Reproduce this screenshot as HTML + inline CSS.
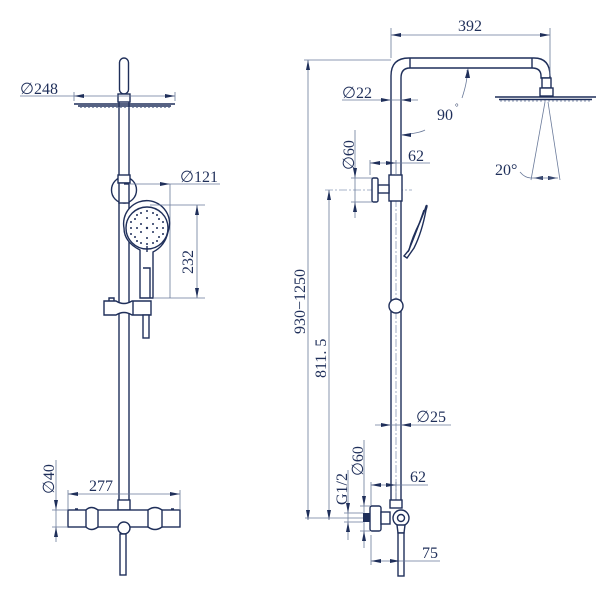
<!DOCTYPE html>
<html><head><style>
html,body{margin:0;padding:0;background:#fff;}
svg{display:block;}
text{font-family:"Liberation Serif",serif;fill:#1f2f5a;font-size:16px;}
.o{fill:none;stroke:#1f2f5a;stroke-width:1.4;}
.f{fill:#fff;stroke:#1f2f5a;stroke-width:1.4;}
.d{fill:none;stroke:#6a7a9a;stroke-width:0.8;}
.c{fill:none;stroke:#8a9ab8;stroke-width:0.8;stroke-dasharray:8 2 2 2;}
.a{fill:#1f2f5a;}
</style></head><body>
<svg width="614" height="598" viewBox="0 0 614 598" xmlns="http://www.w3.org/2000/svg">
<!-- ================= LEFT VIEW ================= -->
<rect class="f" x="119" y="100" width="10" height="405"/>
<rect class="f" x="119.5" y="58" width="9" height="36" rx="4.5"/>
<rect class="f" x="118" y="94" width="12" height="8"/>
<path class="o" d="M74,104 L175,104 M78,106 L171,106"/>
<path class="d" d="M80,107.5 L170,107.5" stroke-dasharray="2 2"/>
<path class="d" d="M20,96 L175,96 M74,92 L74,101 M175,92 L175,101"/>
<path d="M74,96 L84,94 L84,98z M175,96 L165,94 L165,98z" class="a"/>
<text x="20" y="94">∅248</text>
<ellipse class="f" cx="124" cy="190" rx="12.5" ry="13"/>
<rect class="f" x="118" y="175" width="12" height="8"/>
<rect class="f" x="119" y="183" width="10" height="20"/>
<path class="o" d="M124,184 L129,184"/>
<path class="d" d="M129,184 L220,184 M170,184 L170,298"/>
<path class="a" d="M170,184 L160,182 L160,186z"/>
<text x="180" y="182">∅121</text>
<path class="f" d="M140,298 L140,250 Q124,242 124,228 A23,23 0 1 1 168,232 Q165,246 153,252 L153,298 Z"/>
<circle class="o" cx="147" cy="228" r="21"/>
<g fill="#1f2f5a">
<circle cx="147" cy="228" r="1.2"/><circle cx="141" cy="224" r="1"/><circle cx="153" cy="224" r="1"/><circle cx="141" cy="232" r="1"/><circle cx="153" cy="232" r="1"/>
<circle cx="147" cy="218" r="1"/><circle cx="147" cy="238" r="1"/><circle cx="137" cy="228" r="1"/><circle cx="157" cy="228" r="1"/>
<circle cx="135" cy="219" r="1"/><circle cx="159" cy="219" r="1"/><circle cx="135" cy="237" r="1"/><circle cx="159" cy="237" r="1"/>
<circle cx="141" cy="213" r="1"/><circle cx="153" cy="213" r="1"/><circle cx="141" cy="243" r="1"/><circle cx="153" cy="243" r="1"/>
<circle cx="131" cy="228" r="1"/><circle cx="163" cy="228" r="1"/><circle cx="147" cy="211" r="1"/><circle cx="147" cy="244" r="1"/>
<circle cx="131" cy="222" r="1"/><circle cx="163" cy="222" r="1"/><circle cx="131" cy="234" r="1"/><circle cx="163" cy="234" r="1"/>
<circle cx="137" cy="215" r="1"/><circle cx="157" cy="215" r="1"/><circle cx="137" cy="241" r="1"/><circle cx="157" cy="241" r="1"/>
</g>
<path class="o" d="M147,246 L147,252 M143,268 L150,268 L150,298"/>
<path class="d" d="M150,205 L205,205 M153,298 L205,298 M197,205 L197,298"/>
<path class="a" d="M197,205 L195,215 L199,215z M197,298 L195,288 L199,288z"/>
<text transform="translate(193,274) rotate(-90)">232</text>
<path class="f" d="M104,301 L116,301 Q124,306 132,301 L151,301 L151,315 L132,315 Q124,310 116,315 L104,315 Z"/>
<path class="o" d="M133,301 L133,315 M109,301 L109,298 L114,298 L114,301"/>
<rect class="f" x="143" y="315" width="6" height="23"/>
<rect class="f" x="118" y="500" width="12" height="10"/>
<rect class="f" x="68" y="510" width="112" height="17"/>
<path class="f" d="M86,510 Q91,505 98,510 L98,527 Q91,532 86,527 Z"/>
<path class="f" d="M148,510 Q155,505 162,510 L162,527 Q155,532 148,527 Z"/>
<path class="o" d="M75,509 L78,509 M171,509 L174,509"/>
<circle class="f" cx="124" cy="528" r="6"/>
<rect class="f" x="120" y="534" width="6" height="41"/>
<path class="d" d="M68,494 L180,494 M68,490 L68,510 M180,490 L180,510"/>
<path class="a" d="M68,494 L78,492 L78,496z M180,494 L170,492 L170,496z"/>
<text x="89" y="491">277</text>
<path class="d" d="M56,460 L56,542 M52,510 L68,510 M52,527 L68,527"/>
<path class="a" d="M56,510 L54,500 L58,500z M56,527 L54,537 L58,537z"/>
<text transform="translate(54,494) rotate(-90)">∅40</text>

<!-- ================= RIGHT VIEW ================= -->
<path class="f" d="M391,505 L391,76 Q391,58 409,58 L534,58 Q550,58 550,76 L550,78 L541,78 L541,76 Q541,68 532,68 L410,68 Q401,68 401,78 L401,505 Z"/>
<path class="o" d="M410,58 L410,68 M532,58 L532,68"/>
<rect class="f" x="542" y="78" width="9" height="10"/>
<rect class="f" x="540" y="88" width="13" height="8"/>
<path class="o" d="M495,97 L596,97 M499,99.5 L592,99.5"/>
<path class="d" d="M500,101 L590,101" stroke-dasharray="2 2"/>
<path class="c" d="M396,185 L396,505"/>
<path class="c" d="M325,190 L412,190"/>
<path class="d" d="M391,35 L550,35 M391,28 L391,58 M550,28 L550,76"/>
<path class="a" d="M391,35 L401,33 L401,37z M550,35 L540,33 L540,37z"/>
<text x="458" y="31">392</text>
<path class="d" d="M304,60 L391,60 M308,60 L308,520"/>
<path class="a" d="M308,60 L306,70 L310,70z M308,520 L306,510 L310,510z"/>
<text transform="translate(305,334) rotate(-90)">930−1250</text>
<path class="d" d="M329,190 L329,520"/>
<path class="a" d="M329,190 L327,200 L331,200z M329,520 L327,510 L331,510z"/>
<text transform="translate(326,378) rotate(-90)">811. 5</text>
<path class="d" d="M305,518 L372,518"/>
<path class="d" d="M342,100 L418,100"/>
<path class="a" d="M391,100 L381,98 L381,102z M401,100 L411,98 L411,102z"/>
<text x="342" y="98">∅22</text>
<path class="d" d="M467,70 Q468,80 462,98 M401,135 Q420,133 425,130"/>
<path class="a" d="M468,68 L465,78 L470,78z M401,135 L411,133 L411,137z"/>
<text x="437" y="120">90</text><text x="455" y="110" style="font-size:9px">°</text>
<path class="d" d="M545,102 L531,180 M548,102 L560,180 M520,172 Q525,178 531,178"/>
<path class="a" d="M533,178 L543,176 L543,180z M558,178 L548,176 L548,180z"/>
<path class="d" d="M531,178 L558,178"/>
<text x="495" y="175">20°</text>
<rect class="f" x="389" y="175" width="13" height="26"/>
<rect class="f" x="378" y="185" width="11" height="8"/>
<rect class="f" x="372" y="178" width="6" height="24" rx="1.5"/>
<path class="d" d="M355,130 L355,218 M351,178 L372,178 M351,202 L372,202"/>
<path class="a" d="M355,178 L353,168 L357,168z M355,202 L353,212 L357,212z"/>
<text transform="translate(354,170) rotate(-90)">∅60</text>
<path class="d" d="M370,163 L430,163 M370,160 L370,175 M396,160 L396,175"/>
<path class="a" d="M370,163 L380,161 L380,165z M396,163 L386,161 L386,165z"/>
<text x="408" y="161">62</text>
<path class="f" d="M404,256 L409,250 Q412,238 420,222 Q425,210 426,206 Q428,204 426,210 Q422,232 414,248 L407,258 Z"/>
<path class="o" d="M408,252 Q418,228 424,210"/>
<circle class="f" cx="396" cy="306" r="7"/>
<path class="d" d="M375,425 L451,425"/>
<path class="a" d="M391,425 L381,423 L381,427z M401,425 L411,423 L411,427z"/>
<text x="416" y="422">∅25</text>
<path class="d" d="M364,440 L364,548 M360,506 L370,506 M360,531 L370,531"/>
<path class="a" d="M364,506 L362,496 L366,496z M364,531 L362,541 L366,541z"/>
<text transform="translate(363,476) rotate(-90)">∅60</text>
<path class="d" d="M348,470 L348,540 M344,513 L363,513 M344,522 L363,522"/>
<path class="a" d="M348,513 L346,503 L350,503z M348,522 L346,532 L350,532z"/>
<text transform="translate(347,505) rotate(-90)">G1/2</text>
<path class="d" d="M371,485 L428,485 M371,482 L371,506 M396,482 L396,500"/>
<path class="a" d="M371,485 L381,483 L381,487z M396,485 L386,483 L386,487z"/>
<text x="410" y="482">62</text>
<rect class="f" x="390" y="500" width="12" height="8"/>
<rect class="a" x="363" y="513" width="7" height="9"/>
<rect class="f" x="370" y="506" width="11" height="25" rx="2"/>
<rect class="f" x="381" y="512" width="9" height="12"/>
<circle class="f" cx="401" cy="518" r="8"/>
<circle class="o" cx="401" cy="518" r="3.5"/>
<path class="f" d="M397,525 L405,525 L404,533 L398,533 Z"/>
<rect class="f" x="398" y="533" width="6" height="43"/>
<path class="d" d="M371,561 L440,561 M371,535 L371,565"/>
<path class="a" d="M371,561 L381,559 L381,563z M400,561 L390,559 L390,563z"/>
<text x="422" y="558">75</text>
</svg>
</body></html>
